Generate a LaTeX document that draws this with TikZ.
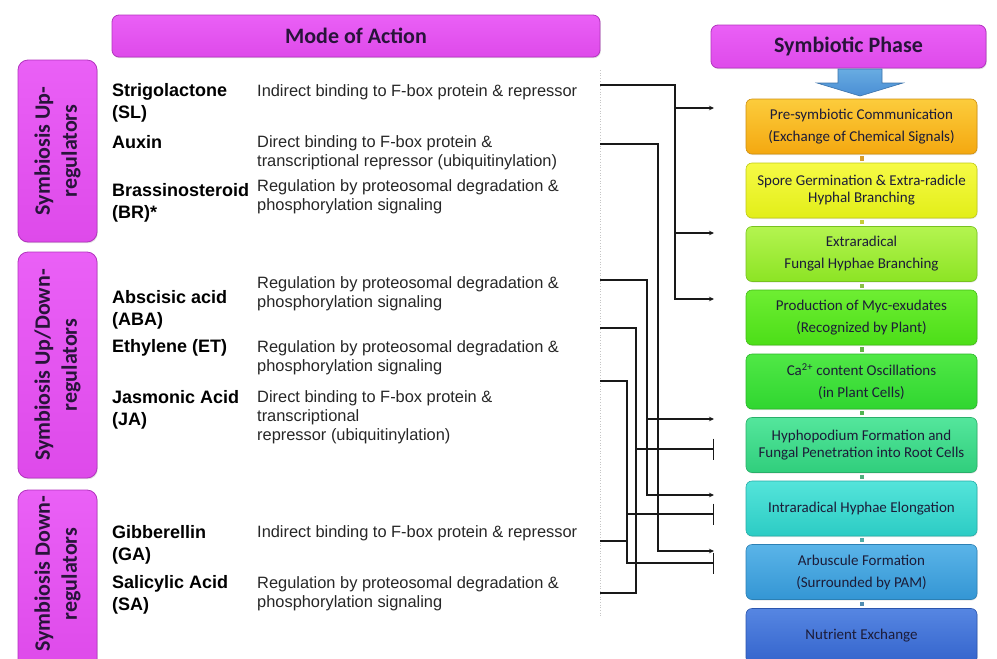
\documentclass[tikz,border=0pt]{standalone}
\usepackage{fontspec}
\setmainfont{Liberation Sans}
\newfontfamily\calibri{Carlito}
\usetikzlibrary{arrows.meta,shadows}

\definecolor{magtop}{RGB}{234,96,246}
\definecolor{magbot}{RGB}{222,74,234}
\definecolor{magedge}{RGB}{178,52,190}
\definecolor{headtext}{RGB}{40,20,58}
\definecolor{phasetext}{RGB}{28,28,56}
\definecolor{c1t}{RGB}{252,204,60}\definecolor{c1b}{RGB}{244,168,16}
\definecolor{c2t}{RGB}{246,250,70}\definecolor{c2b}{RGB}{226,238,24}
\definecolor{c3t}{RGB}{180,244,80}\definecolor{c3b}{RGB}{140,228,36}
\definecolor{c4t}{RGB}{110,238,50}\definecolor{c4b}{RGB}{76,222,24}
\definecolor{c5t}{RGB}{80,232,70}\definecolor{c5b}{RGB}{48,214,48}
\definecolor{c6t}{RGB}{84,230,156}\definecolor{c6b}{RGB}{48,206,124}
\definecolor{c7t}{RGB}{84,228,218}\definecolor{c7b}{RGB}{44,204,196}
\definecolor{c8t}{RGB}{90,180,232}\definecolor{c8b}{RGB}{52,150,212}
\definecolor{c9t}{RGB}{86,134,226}\definecolor{c9b}{RGB}{52,100,204}
\definecolor{arrowtop}{RGB}{104,172,226}
\definecolor{arrowbot}{RGB}{74,142,212}

\begin{document}
\begin{tikzpicture}[x=1pt,y=-1pt,
    headbox/.style={draw=magedge, line width=0.8pt, rounded corners=7pt,
        top color=magtop, bottom color=magbot, inner sep=0pt,
        drop shadow={opacity=0.25, shadow xshift=0.8pt, shadow yshift=-1.2pt},
        font=\calibri\bfseries\fontsize{22}{26}\selectfont, text=headtext},
    sidebox/.style={draw=magedge, line width=0.8pt, rounded corners=10pt,
        top color=magtop, bottom color=magbot, minimum width=79pt,
        drop shadow={opacity=0.25, shadow xshift=0.8pt, shadow yshift=-1.2pt}},
    sidetext/.style={rotate=90, align=center, inner sep=0pt, text=headtext,
        font=\calibri\bfseries\fontsize{22}{27}\selectfont},
    hormone/.style={anchor=north west, align=left, inner sep=0pt,
        font=\bfseries\fontsize{18}{22}\selectfont},
    desc/.style={anchor=north west, align=left, inner sep=0pt, text=black!85,
        font=\fontsize{16.4}{19}\selectfont},
    phase/.style 2 args={draw=#2!85!black, line width=0.6pt, rounded corners=6pt,
        top color=#1, bottom color=#2, minimum width=231pt, minimum height=55pt,
        inner sep=0pt, align=center, text=phasetext,
        drop shadow={opacity=0.2, shadow xshift=0.6pt, shadow yshift=-1pt},
        font=\calibri\fontsize{15}{17}\selectfont},
    link/.style={line width=4pt, shorten >=2pt, shorten <=2pt},
    conn/.style={line width=1.3pt, black!90},
    act/.style={conn, -{Stealth[length=5pt,width=4.5pt]}},
    inh/.style={conn, -{Bar[width=21pt]}}]

\clip (0,0) rectangle (997,659);

% Column heads
\node[headbox, minimum width=488pt, minimum height=42pt] (mode) at (356,36) {Mode of Action};
\node[headbox, minimum width=275pt, minimum height=43pt] (phase) at (848.5,46.5) {Symbiotic Phase};

% Regulator groups
\node[sidebox, minimum height=182pt] (upbox) at (57.5,151) {};
\node[sidetext] (uptxt) at (upbox.center) {Symbiosis Up-\\regulators};
\node[sidebox, minimum height=226pt] (udbox) at (57.5,365) {};
\node[sidetext] (udtxt) at (udbox.center) {Symbiosis Up/Down-\\regulators};
\node[sidebox, minimum height=180pt] (downbox) at (57.5,580) {};
\node[sidetext] (downtxt) at (57.5,574) {Symbiosis Down-\\regulators};

% Hormones
\node[hormone] (sln) at (112,83.5) {Strigolactone\\(SL)};
\node[hormone] (auxn) at (112,135.5) {Auxin};
\node[hormone] (brn) at (112,183.5) {Brassinosteroid\\(BR)*};
\node[hormone] (aban) at (112,290.5) {Abscisic acid\\(ABA)};
\node[hormone] (etn) at (112,339.5) {Ethylene (ET)};
\node[hormone] (jan) at (112,390.5) {Jasmonic Acid\\(JA)};
\node[hormone] (gan) at (112,525.5) {Gibberellin\\(GA)};
\node[hormone] (san) at (112,575.5) {Salicylic Acid\\(SA)};

% Mode of action
\node[desc] (sld) at (257,84) {Indirect binding to F-box protein \& repressor};
\node[desc] (auxd) at (257,135) {Direct binding to F-box protein \&\\transcriptional repressor (ubiquitinylation)};
\node[desc] (brd) at (257,179) {Regulation by proteosomal degradation \&\\phosphorylation signaling};
\node[desc] (abad) at (257,276) {Regulation by proteosomal degradation \&\\phosphorylation signaling};
\node[desc] (etd) at (257,340) {Regulation by proteosomal degradation \&\\phosphorylation signaling};
\node[desc] (jad) at (257,390) {Direct binding to F-box protein \&\\transcriptional\\repressor (ubiquitinylation)};
\node[desc] (gad) at (257,525) {Indirect binding to F-box protein \& repressor};
\node[desc] (sad) at (257,576) {Regulation by proteosomal degradation \&\\phosphorylation signaling};

\draw[gray!45, dotted, line width=0.7pt] (600,70) -- (600,617);

% Phases
\node[phase={c1t}{c1b}] (p1) at (861.5,126.5) {Pre-symbiotic Communication\\[5pt](Exchange of Chemical Signals)};
\node[phase={c2t}{c2b}] (p2) at (861.5,190.5) {Spore Germination \& Extra-radicle\\Hyphal Branching};
\node[phase={c3t}{c3b}] (p3) at (861.5,254) {Extraradical\\[5pt]Fungal Hyphae Branching};
\node[phase={c4t}{c4b}] (p4) at (861.5,317.5) {Production of Myc-exudates\\[5pt](Recognized by Plant)};
\node[phase={c5t}{c5b}] (p5) at (861.5,381.5) {Ca\textsuperscript{2+} content Oscillations\\[5pt](in Plant Cells)};
\node[phase={c6t}{c6b}] (p6) at (861.5,445) {Hyphopodium Formation and\\Fungal Penetration into Root Cells};
\node[phase={c7t}{c7b}] (p7) at (861.5,508.5) {Intraradical Hyphae Elongation};
\node[phase={c8t}{c8b}] (p8) at (861.5,572) {Arbuscule Formation\\[5pt](Surrounded by PAM)};
\node[phase={c9t}{c9b}] (p9) at (861.5,636) {Nutrient Exchange};

% Links between phases
\draw[link, c1b!75!gray] (p1.south) -- (p2.north);
\draw[link, c2b!70!gray] (p2.south) -- (p3.north);
\draw[link, c3b!65!gray] (p3.south) -- (p4.north);
\draw[link, c4b!60!gray] (p4.south) -- (p5.north);
\draw[link, c5b!60!gray] (p5.south) -- (p6.north);
\draw[link, c6b!60!gray] (p6.south) -- (p7.north);
\draw[link, c7b!60!gray] (p7.south) -- (p8.north);
\draw[link, c8b!60!gray] (p8.south) -- (p9.north);

% Block arrow
\draw[draw=arrowbot!80!black, line width=0.6pt, top color=arrowtop, bottom color=arrowbot]
    (838,69) -- (882,69) -- (882,83) -- (903,83) -- (860,96) -- (817,83) -- (838,83) -- cycle;

% Outlets and targets
\coordinate (sl) at (600,85);
\coordinate (aux) at (600,144);
\coordinate (aba) at (600,280);
\coordinate (et) at (600,328);
\coordinate (ja) at (600,381);
\coordinate (ga) at (600,541);
\coordinate (sa) at (600,593);
\coordinate (slbus) at (675,85);
\coordinate (auxbus) at (658,144);
\coordinate (ababus) at (647,280);
\coordinate (etbus) at (636,328);
\coordinate (jabus) at (627,381);
\coordinate (a1) at (714,108);
\coordinate (a3) at (714,233);
\coordinate (a4) at (714,299);
\coordinate (a6) at (714,419);
\coordinate (b6) at (714,449);
\coordinate (a7) at (714,495);
\coordinate (b7) at (714,514);
\coordinate (a8) at (714,551);
\coordinate (b8) at (714,563);

% Up-regulation
\draw[act] (sl) -| (slbus |- a4) -- (a4);
\draw[act] (slbus |- a1) -- (a1);
\draw[act] (slbus |- a3) -- (a3);
\draw[act] (aux) -| (auxbus |- a8) -- (a8);
\draw[act] (aba) -| (ababus |- a7) -- (a7);
\draw[act] (ababus |- a6) -- (a6);

% Down-regulation
\draw[conn] (et) -| (etbus |- sa) -- (sa);
\draw[inh] (etbus |- b6) -- (b6);
\draw[inh] (ja) -| (jabus |- b8) -- (b8);
\draw[conn] (ga) -- (jabus |- ga);
\draw[inh] (jabus |- b7) -- (b7);
\end{tikzpicture}
\end{document}
